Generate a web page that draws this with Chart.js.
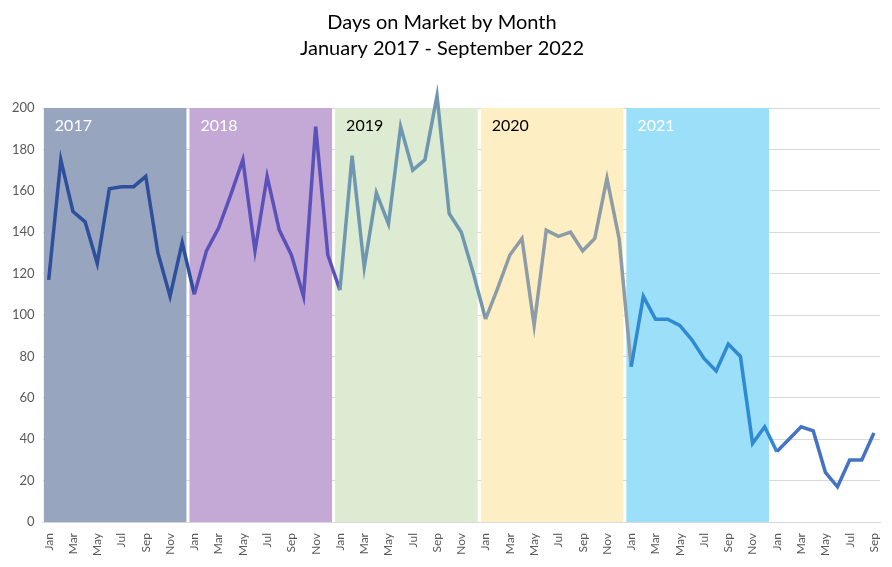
<!DOCTYPE html>
<html>
<head>
<meta charset="utf-8">
<script src="https://cdn.jsdelivr.net/npm/chart.js@4.4.1/dist/chart.umd.min.js"></script>
<style>
  html, body { margin: 0; padding: 0; background: #fff; }
  #wrap { width: 892px; height: 567px; }
</style>
</head>
<body>
<div id="wrap"><canvas id="c"></canvas></div>
<script>
const MONTHS = ['Jan','Feb','Mar','Apr','May','Jun','Jul','Aug','Sep','Oct','Nov','Dec'];
const YEARS = ['2017','2018','2019','2020','2021','2022'];
const y2017 = [117,175,150,145,125,161,162,162,167,130,109,135];
const y2018 = [110,131,142,158,175,131,167,141,129,109,191,129];
const y2019 = [112,177,123,159,144,191,170,175,206,149,140,120];
const y2020 = [98,113,129,137,95,141,138,140,131,137,166,137];
const y2021 = [75,109,98,98,95,88,79,73,86,80,38,46];
const y2022 = [34,40,46,44,24,17,30,30,43];
const yTicks = [0,20,40,60,80,100,120,140,160,180,200];

// segment colours by year
const lineColors = ['#2e4f9c','#5a52b8','#6f97b0','#8d9ca6','#2f8ad4','#4472c4'];
// shaded year bands
const bandYears = ['2017','2018','2019','2020','2021'];
const bandColors = ['#97a5bf','#c4a8d6','#dcebd2','#fdefc3','#9bdff8'];
const bandText = ['#ffffff','#ffffff','#000000','#000000','#ffffff'];

const values = [].concat(y2017, y2018, y2019, y2020, y2021, y2022);
const points = values.map((v, i) => ({ x: i, y: v }));

const bands = {
  id: 'bands',
  beforeDatasetsDraw(chart) {
    const { ctx, scales: { x, y } } = chart;
    ctx.save();
    bandYears.forEach((yr, k) => {
      const x0 = x.getPixelForValue(k * 12 - 0.4);
      const x1 = x.getPixelForValue(k * 12 + 11.35);
      const top = y.getPixelForValue(200), bot = y.getPixelForValue(0);
      ctx.fillStyle = bandColors[k];
      ctx.fillRect(x0, top, x1 - x0, bot - top);
      ctx.fillStyle = bandText[k];
      ctx.font = '16px Lato, "Open Sans", sans-serif';
      ctx.textBaseline = 'middle';
      ctx.fillText(yr, x0 + 11, top + 18);
    });
    ctx.restore();
  }
};

new Chart(document.getElementById('c'), {
  type: 'line',
  data: {
    datasets: [{
      data: points,
      borderWidth: 3.5,
      pointRadius: 0,
      tension: 0,
      clip: false,
      borderColor: lineColors[0],
      segment: { borderColor: c => lineColors[Math.floor(c.p0DataIndex / 12)] }
    }]
  },
  plugins: [bands],
  options: {
    responsive: true,
    maintainAspectRatio: false,
    animation: false,
    layout: { padding: { left: 4, right: 12, top: 0, bottom: 8 } },
    plugins: {
      legend: { display: false },
      tooltip: { enabled: false },
      title: {
        display: true,
        text: ['Days on Market by Month', 'January 2017 - September 2022'],
        color: '#000',
        font: { family: 'Lato, "Open Sans", sans-serif', size: 20, weight: 'normal', lineHeight: 1.3 },
        padding: { top: 10, bottom: 46 }
      }
    },
    scales: {
      x: {
        type: 'linear',
        min: -0.5,
        max: values.length - 0.5,
        afterBuildTicks: s => { s.ticks = values.map((v, i) => ({ value: i })).filter(t => t.value % 2 === 0); },
        ticks: {
          autoSkip: false,
          maxRotation: 90,
          minRotation: 90,
          color: '#595959',
          font: { family: 'Lato, "Open Sans", sans-serif', size: 12 },
          callback: v => MONTHS[v % 12]
        },
        grid: { display: false },
        border: { color: '#d9d9d9' }
      },
      y: {
        min: 0,
        max: 200,
        afterBuildTicks: s => { s.ticks = yTicks.map(v => ({ value: v })); },
        ticks: { color: '#595959', font: { family: 'Lato, "Open Sans", sans-serif', size: 13 }, padding: 8 },
        grid: { color: '#d9d9d9', drawTicks: false },
        border: { display: false }
      }
    }
  }
});
</script>
</body>
</html>
